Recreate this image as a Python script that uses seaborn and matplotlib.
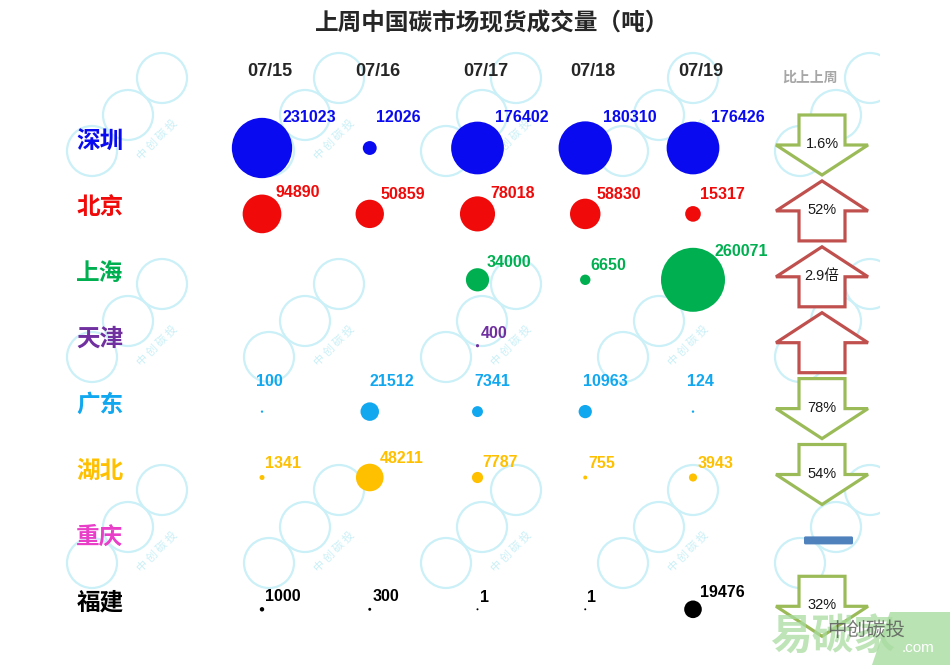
import numpy as np
import pandas as pd
import matplotlib
matplotlib.use('Agg')
import matplotlib.pyplot as plt
import seaborn as sns
from matplotlib.patches import Polygon, Circle, Rectangle, FancyBboxPatch

# data
dates = ['07/15', '07/16', '07/17', '07/18', '07/19']
cities = ['深圳', '北京', '上海', '天津', '广东', '湖北', '重庆', '福建']
shenzhen = [231023, 12026, 176402, 180310, 176426]
beijing = [94890, 50859, 78018, 58830, 15317]
shanghai = [None, None, 34000, 6650, 260071]
tianjin = [None, None, 400, None, None]
guangdong = [100, 21512, 7341, 10963, 124]
hubei = [1341, 48211, 7787, 755, 3943]
chongqing = [None, None, None, None, None]
fujian = [1000, 300, 1, 1, 19476]
change_labels = ['1.6%', '52%', '2.9倍', '', '78%', '54%', '', '32%']
change_dir = ['down', 'up', 'up', 'up', 'down', 'down', 'flat', 'down']

city_colors = ['#0A0AF0', '#F00A0A', '#00B050', '#7030A0', '#12A8F0',
               '#FFC000', '#E83EC8', '#000000']

series = [shenzhen, beijing, shanghai, tianjin, guangdong, hubei, chongqing, fujian]
rows = []
for city, vals in zip(cities, series):
    for d, v in zip(dates, vals):
        if v is not None:
            rows.append({'city': city, 'date': d, 'value': v})
df = pd.DataFrame(rows)

# layout (pixel grid of the canvas)
col_x = {d: 262 + 107.75 * j for j, d in enumerate(dates)}
row_y = {c: 148 + 65.9 * i for i, c in enumerate(cities)}
df['x'] = df['date'].map(col_x)
df['y'] = df['city'].map(row_y)
vmax = df['value'].max()
smax = (64 * 0.72) ** 2

sns.set_theme(style='white')
plt.rcParams['font.family'] = ['Liberation Sans', 'Noto Sans CJK SC', 'DejaVu Sans']

fig = plt.figure(figsize=(9.5, 6.71), dpi=100)
ax = fig.add_axes([0, 0, 1, 1])

# faint watermark tiles
clip = Rectangle((0, 40), 880, 631, transform=ax.transData)
wm = '#CBF0F7'
for ux in [162, 339, 516, 693, 870]:
    for uy in [78, 284, 490]:
        for ox, oy in [(0, 0), (-34, 37), (-70, 73)]:
            c = Circle((ux + ox, uy + oy), 25, fill=False, ec=wm, lw=1.6, zorder=0)
            ax.add_patch(c)
            c.set_clip_path(clip)
        if ux < 800:
            ax.text(ux - 5, uy + 62, '中 创 碳 投', rotation=45, color=wm,
                    fontsize=8, ha='center', va='center', zorder=0,
                    family=['Noto Sans CJK SC'])

sns.scatterplot(data=df, x='x', y='y', hue='city',
                palette=dict(zip(cities, city_colors)),
                size='value', sizes=(2, smax), size_norm=(0, vmax),
                linewidth=0, legend=False, ax=ax, zorder=3)

lift = [30, 19, 0, 10, 30, 14, 0, 7]
shift_x = [0, 0, 0, 0, -8, 0, 0, 0]
for _, r in df.iterrows():
    i = cities.index(r['city'])
    rad = 32 * np.sqrt(r['value'] / vmax)
    dy = max(lift[i], 0.5 * rad + 12)
    dx = 0.6 * rad + 2 + shift_x[i]
    ax.text(r['x'] + dx, r['y'] - dy, str(r['value']), color=city_colors[i],
            fontsize=11.5, fontweight='bold', ha='left', va='center', zorder=4)

ax.text(492, 23, '上周中国碳市场现货成交量（吨）', fontsize=17, fontweight='bold',
        ha='center', va='center', family=['Noto Sans CJK SC'])
for d in dates:
    ax.text(col_x[d] + 8, 72, d, fontsize=13, fontweight='bold',
            ha='center', va='center')
for i, c in enumerate(cities):
    ax.text(100, row_y[c] - 7, c, color=city_colors[i], fontsize=17,
            fontweight='bold', ha='center', va='center', family=['Noto Sans CJK SC'])

ax.text(810, 78, '比上上周', color='#A6A6A6', fontsize=10, fontweight='bold',
        ha='center', va='center', family=['Noto Sans CJK SC'])

# change arrows
cx = 822
for i, c in enumerate(cities):
    cy = row_y[c] - 3
    if change_dir[i] == 'flat':
        ax.add_patch(FancyBboxPatch((cx - 18, cy - 4), 49, 8,
                                    boxstyle='round,pad=0,rounding_size=1.5',
                                    fc='#4F81BD', ec='none', zorder=3))
        continue
    s = 1 if change_dir[i] == 'down' else -1
    pts = [(cx - 23, cy - 30 * s), (cx + 23, cy - 30 * s), (cx + 23, cy),
           (cx + 46, cy), (cx, cy + 30 * s), (cx - 46, cy), (cx - 23, cy)]
    col = '#9BBB59' if s == 1 else '#C0504D'
    ax.add_patch(Polygon(pts, closed=True, fc='white', ec=col, lw=2.3,
                         joinstyle='miter', zorder=3))
    if change_labels[i]:
        ax.text(cx, cy - 1, change_labels[i], fontsize=10.5, ha='center',
                va='center', color='#1A1A1A', zorder=4,
                family=['Liberation Sans', 'Noto Sans CJK SC'])

# corner logo overlay
ax.text(770, 638, '易碳家', color='#A8DCA0', fontsize=30, fontweight='bold',
        ha='left', va='center', alpha=0.75, family=['Noto Sans CJK SC'], zorder=5)
ax.add_patch(Polygon([(890, 612), (950, 612), (950, 665), (872, 665)],
                     closed=True, fc='#A8DCA0', ec='none', alpha=0.8, zorder=5))
ax.text(918, 648, '.com', color='white', fontsize=11, ha='center', va='center', zorder=6)
ax.text(866, 630, '中创碳投', color='#555555', fontsize=14, ha='center',
        va='center', alpha=0.8, family=['Noto Sans CJK SC'], zorder=6)

ax.set_xlim(0, 950)
ax.set_ylim(671, 0)
ax.axis('off')

fig.savefig('out.png', dpi=100, facecolor='white')
